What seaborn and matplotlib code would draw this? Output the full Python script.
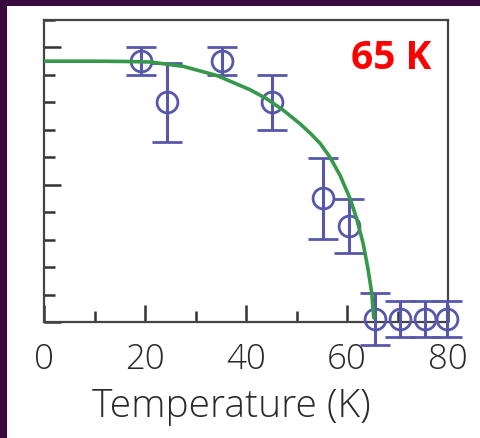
import matplotlib
matplotlib.use("Agg")
import matplotlib.pyplot as plt
import seaborn as sns
import numpy as np
import pandas as pd
from matplotlib.patches import Rectangle
from matplotlib.ticker import MultipleLocator

# ---- data ----
temp_pts = [19.3, 24.3, 35.3, 45.2, 55.2, 60.3, 65.5, 70.5, 75.4, 79.8]
gap_pts = [0.95, 0.80, 0.95, 0.80, 0.45, 0.35, 0.01, 0.01, 0.01, 0.01]
gap_err = [0.05, 0.145, 0.05, 0.10, 0.148, 0.097, 0.095, 0.065, 0.065, 0.065]

curve_t = [0, 10, 16, 21, 27.6, 34.2, 40.8, 44.1, 47.4, 50.7, 52.7, 54.7, 56.6,
           58.6, 60.6, 61.9, 63.2, 64.2, 64.9, 65.3]
curve_v = [0.950, 0.950, 0.949, 0.947, 0.931, 0.898, 0.846, 0.813, 0.771, 0.722,
           0.688, 0.650, 0.601, 0.535, 0.450, 0.377, 0.286, 0.189, 0.105, 0.015]

x_ticks = [0, 20, 40, 60, 80]
x_ticklabels = ["0", "20", "40", "60", "80"]
x_label = "Temperature (K)"
annotation = "65 K"

sns.set_theme(style="ticks")
plt.rcParams['font.family'] = ['Open Sans', 'DejaVu Sans']

fig = plt.figure(figsize=(4.8, 4.38), dpi=100, facecolor="#3a0a3e")
bg = Rectangle((7 / 480, 0), 1, 1 - 6 / 438, transform=fig.transFigure,
               facecolor="white", edgecolor="none", zorder=-10)
fig.patches.append(bg)
ax = fig.add_axes([44 / 480, 1 - 322 / 438, 404 / 480, 302 / 438])
ax.set_zorder(1)
ax.set_facecolor("white")

blue = "#5658ab"
green = "#36994a"

ax.errorbar(temp_pts, gap_pts, yerr=gap_err, fmt="o", ms=15, mfc="none", mec=blue,
            mew=2.0, ecolor=blue, elinewidth=2.2, capsize=11, capthick=2.2,
            clip_on=False, zorder=3)

curve_df = pd.DataFrame({"T": curve_t, "gap": curve_v})
sns.lineplot(data=curve_df, x="T", y="gap", ax=ax, color=green, lw=2.6, zorder=4,
             sort=False)

ax.set_xlim(0, 80)
ax.set_ylim(0, 1.1)
ax.set_xticks(x_ticks)
ax.set_xticklabels(x_ticklabels, fontweight="light")
ax.xaxis.set_minor_locator(MultipleLocator(10))
ax.yaxis.set_major_locator(MultipleLocator(0.5))
ax.yaxis.set_minor_locator(MultipleLocator(0.1))
ax.set_ylabel("")
ax.tick_params(axis="both", which="major", direction="in", length=12.5, width=1.8,
               color="#333333", labelsize=25, labelcolor="#2a2a2a", pad=15)
ax.tick_params(axis="both", which="minor", direction="in", length=8, width=1.8,
               color="#333333")
ax.tick_params(axis="y", which="both", labelleft=False)
for s in ax.spines.values():
    s.set_visible(True)
    s.set_color("#444444")
    s.set_linewidth(1.6)

ax.set_xlabel(x_label, fontsize=28, color="#2a2a2a", fontweight="light")
ax.xaxis.label.set_va("baseline")
ax.xaxis.set_label_coords((231.5 - 44) / 404, (322 - 417) / 302)

ax.text(431 / 480, 1 - 69 / 438, annotation, transform=fig.transFigure, ha="right",
        va="baseline", fontsize=28, fontweight="bold", color="#ff0000")

fig.savefig("out.png", dpi=100, facecolor=fig.get_facecolor())
